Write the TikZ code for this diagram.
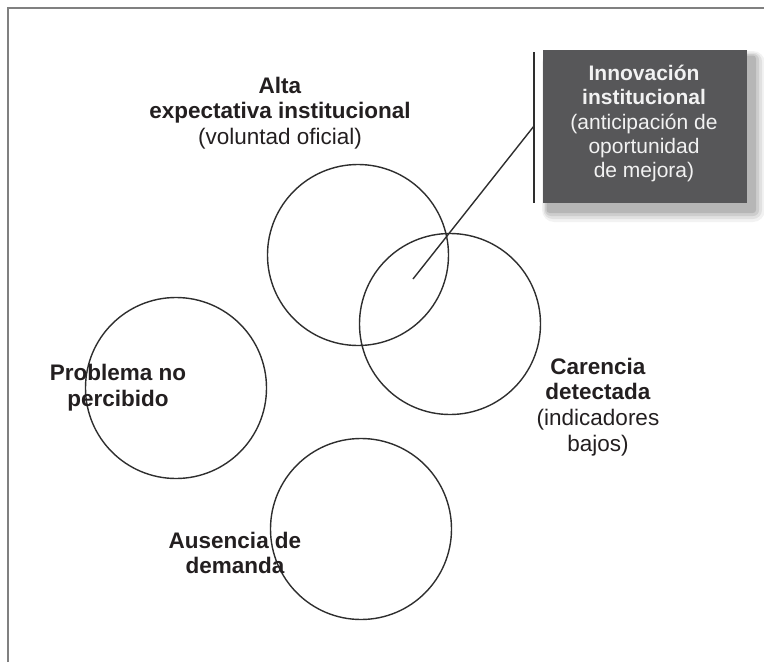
\documentclass[tikz,border=0pt]{standalone}
\usepackage{fontspec}
\setmainfont{Liberation Sans}
\definecolor{boxgray}{RGB}{87,87,89}
\definecolor{inkdark}{RGB}{35,31,32}
\begin{document}
\begin{tikzpicture}[x=1pt,y=-1pt,
  ring/.style={circle,draw=black!82,line width=1.4pt,minimum size=181pt,inner sep=0pt},
  lbl/.style={align=center,text=inkdark,font=\fontsize{22.5}{25.8}\selectfont,inner sep=0pt},
  frameline/.style={draw=black!50,line width=1.6pt},
  leader/.style={draw=black!82,line width=1.4pt}]
\useasboundingbox (0,0) rectangle (764,664);
% frame
\draw[frameline] (8,662) -- (8,8) -- (764,8);
% circles
\node[ring] (alta) at (358,255) {};
\node[ring] (carencia) at (450,324) {};
\node[ring] (problema) at (176,388) {};
\node[ring] (ausencia) at (361,529) {};
% shadow of box
\foreach \d/\o in {12/0.05,9/0.07,6/0.09,3/0.11}{
  \fill[black,opacity=\o,rounded corners=\d pt] (548-\d/2,57-\d/2) rectangle (753+\d,210+\d);
}
% box
\node[fill=boxgray,minimum width=204pt,minimum height=153pt,inner sep=0pt] (innov) at (645,126.5) {};
\node[text=white!95!black,align=center,inner sep=0pt,font=\fontsize{21}{24.2}\selectfont]
  (innovtext) at (644,123.5)
  {\textbf{Innovación}\\\textbf{institucional}\\(anticipación de\\oportunidad\\de mejora)};
% leader lines
\coordinate (vtop) at (534,52);
\coordinate (vbot) at (534,203);
\coordinate (ltip) at (413,279);
\coordinate (ljoin) at (534,126);
\draw[leader] (vtop) -- (vbot);
\draw[leader] (ltip) -- (ljoin);
% labels
\node[lbl] (lalta) at (280,113) {\textbf{Alta}\\\textbf{expectativa institucional}\\(voluntad oficial)};
\node[lbl] (lprob) at (118,388) {\textbf{Problema no}\\\textbf{percibido}};
\node[lbl] (lcar) at (598,407) {\textbf{Carencia}\\\textbf{detectada}\\(indicadores\\bajos)};
\node[lbl] (laus) at (235,553) {\textbf{Ausencia de}\\\textbf{demanda}};
\end{tikzpicture}
\end{document}
